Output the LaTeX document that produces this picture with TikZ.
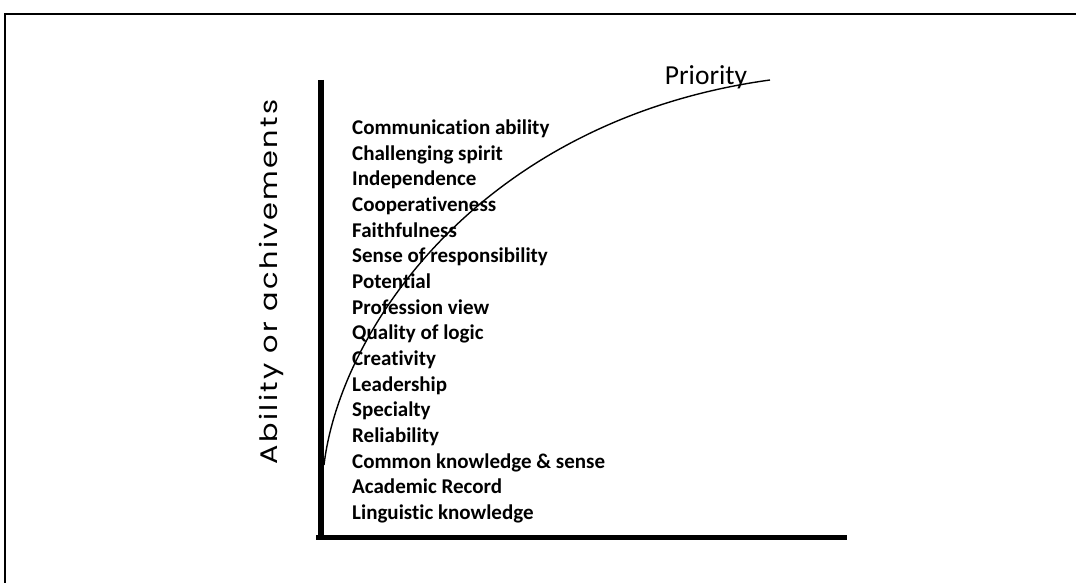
\documentclass[tikz,border=0pt]{standalone}
\usepackage{fontspec}
\setmainfont{Carlito}[Ligatures=NoCommon]
\newfontfamily\labelfont{Poppins}[FakeStretch=1.2,LetterSpace=10]
\usetikzlibrary{positioning}
\tikzset{item/.style={anchor=base west,inner sep=0pt,font=\fontsize{21}{21}\selectfont\bfseries}}

\begin{document}
\begin{tikzpicture}[x=1pt,y=-1pt]
\useasboundingbox(0,0)rectangle(1076,583);
%frame
\draw[line width=2pt](5,583)--(5,14)--(1076,14);
%axes
\draw[line width=6pt](321,80)--(321,540);
\draw[line width=5pt](316,537)--(847,537);
\draw[line width=1.4pt](324,465)..controls(340,330)and(480,120)..(770,80);
\node(prio)[anchor=base,font=\fontsize{27.5}{27.5}\selectfont,inner sep=0pt]at(706,85){Priority};
\node(ylab)[rotate=90,font=\labelfont\fontsize{24}{24}\selectfont,inner sep=0pt]at(271,282){Ability or achivements};
\foreach \t [count=\i] in {Communication ability,Challenging spirit,Independence,Cooperativeness,
  Faithfulness,Sense of responsibility,Potential,Profession view,Quality of logic,Creativity,
  Leadership,Specialty,Reliability,Common knowledge \& sense,Academic Record,Linguistic knowledge}
  \node(item\i)[item]at(352,{134.5+(\i-1)*25.67}){\t};
\end{tikzpicture}
\end{document}
